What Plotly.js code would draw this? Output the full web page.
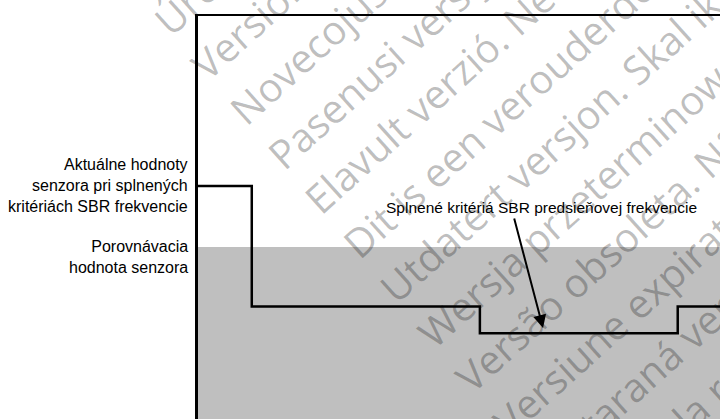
<!DOCTYPE html>
<html>
<head>
<meta charset="utf-8">
<script src="https://cdn.plot.ly/plotly-3.0.1.min.js"></script>
<style>body { margin: 0; background: #fff; }</style>
</head>
<body>
<div id="myDiv" style="width:720px;height:419px"></div>
<script>
// time axis (arbitrary units) and sensor values of the step trace
var timeSteps = [0, 10.3, 54, 91.9, 100];
var sensorValues = [57.8, 27.9, 21.3, 27.9, 27.9];
var comparisonValue = 42.7;
var arrowTip = [66.1, 22.6];
var arrowTail = [60.5, 50.1];

var leftLabelTop = 'Aktuálne hodnoty<br>senzora pri splnených<br>kritériách SBR frekvencie';
var leftLabelBottom = 'Porovnávacia<br>hodnota senzora';
var arrowLabel = 'Splnené kritériá SBR predsieňovej frekvencie';

var watermarkLines = [
    'Úrelt útgáfa. Notið ekki.',
    'Versione obsoleta. Non utilizzare.',
    'Novecojusi versija. Neizmantot.',
    'Pasenusi versija. Nenaudokite.',
    'Elavult verzió. Ne használja!',
    'Dit is een verouderde versie. Niet gebruiken.',
    'Utdatert versjon. Skal ikke brukes.',
    'Wersja przeterminowana. Nie używać.',
    'Versão obsoleta. Não utilize.',
    'Versiune expirată. A nu se utiliza.',
    'Zastaraná verzia. Nepoužívať.',
    'Zastarela različica. Ne uporabite.'
];

var W = 720, H = 419, L = 198, T = 16;

var trace1 = {
    x: timeSteps,
    y: sensorValues,
    mode: 'lines',
    line: { color: '#000', width: 2.5, shape: 'hv' },
    hoverinfo: 'skip',
    showlegend: false
};

var annotations = [
    {
        xref: 'paper', x: 0, xanchor: 'right', xshift: -8,
        yref: 'y', y: sensorValues[0], yanchor: 'middle', yshift: 1,
        text: leftLabelTop, align: 'right', showarrow: false,
        font: { family: 'Liberation Sans, Arial', size: 16, color: '#000' }
    },
    {
        xref: 'paper', x: 0, xanchor: 'right', xshift: -8,
        yref: 'y', y: comparisonValue, yanchor: 'middle', yshift: -10,
        text: leftLabelBottom, align: 'right', showarrow: false,
        font: { family: 'Liberation Sans, Arial', size: 16, color: '#000' }
    },
    {
        xref: 'x', x: 65.8, yref: 'y', y: 52.6,
        text: arrowLabel, showarrow: false,
        font: { family: 'Liberation Sans, Arial', size: 15.5, color: '#000' }
    },
    {
        xref: 'x', x: arrowTip[0], yref: 'y', y: arrowTip[1],
        axref: 'x', ax: arrowTail[0], ayref: 'y', ay: arrowTail[1],
        text: '', showarrow: true,
        arrowhead: 2, arrowsize: 1.3, arrowwidth: 2, arrowcolor: '#000'
    }
];

// watermark lines, rotated
watermarkLines.forEach(function (t, i) {
    var px = 216 + (i - 2) * 37.7;
    var py = 137.4 + (i - 2) * 44.6;
    annotations.push({
        xref: 'paper', x: (px - L) / (W - L), xanchor: 'left',
        yref: 'paper', y: (H - py) / (H - T), yanchor: 'bottom',
        text: t, textangle: -42, showarrow: false, borderpad: 0,
        font: { family: 'Open Sans', size: 40, color: 'rgba(0,0,0,0.26)' }
    });
});

var layout = {
    width: W,
    height: H,
    margin: { l: L, r: 0, t: T, b: 0 },
    paper_bgcolor: '#fff',
    plot_bgcolor: '#fff',
    xaxis: {
        range: [0, 100], side: 'top', showline: true, linewidth: 2.5, linecolor: '#000',
        showgrid: false, zeroline: false, showticklabels: false, ticks: ''
    },
    yaxis: {
        range: [0, 100], showline: true, linewidth: 3, linecolor: '#000',
        showgrid: false, zeroline: false, showticklabels: false, ticks: ''
    },
    shapes: [{
        type: 'rect', xref: 'x', yref: 'y', layer: 'below',
        x0: 0, x1: 100, y0: 0, y1: comparisonValue,
        fillcolor: '#bfbfbf', line: { width: 0 }
    }],
    annotations: annotations,
    showlegend: false
};

Plotly.newPlot('myDiv', [trace1], layout, { staticPlot: true });
</script>
</body>
</html>
